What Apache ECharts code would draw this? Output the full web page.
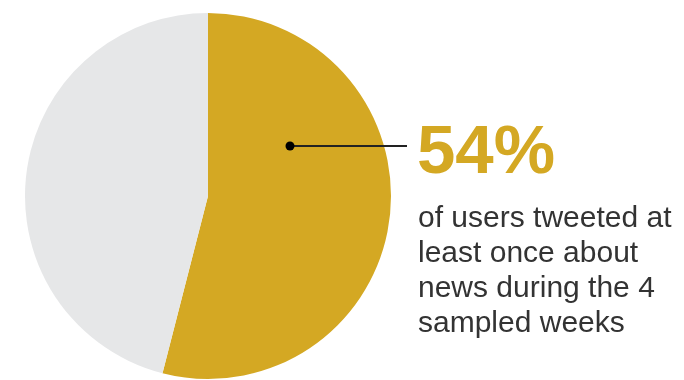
<!DOCTYPE html>
<html><head><meta charset="utf-8">
<script src="https://cdn.jsdelivr.net/npm/echarts@6/dist/echarts.min.js"></script>
<style>html,body{margin:0;padding:0;background:#fff}#c{width:684px;height:380px}</style>
</head><body><div id="c"></div>
<script>
const categories = ['Tweeted about news', 'Did not'];
const values = [54, 46];
const colors = ['#D4A823', '#E6E7E8'];
const captionLines = ['of users tweeted at', 'least once about', 'news during the 4', 'sampled weeks'];

const chart = echarts.init(document.getElementById('c'));
chart.setOption({
  animation: false,
  series: [{
    type: 'pie',
    center: [208, 196],
    radius: [0, 183],
    startAngle: 90,
    clockwise: true,
    silent: true,
    z: 1,
    label: { show: false },
    labelLine: { show: false },
    itemStyle: { borderWidth: 0 },
    data: categories.map((c, i) => ({ name: c, value: values[i], itemStyle: { color: colors[i] } }))
  }],
  graphic: {
    elements: [
      { type: 'line', z: 100, shape: { x1: 290, y1: 146, x2: 407, y2: 146 }, style: { stroke: '#222', lineWidth: 2 } },
      { type: 'circle', z: 101, shape: { cx: 290, cy: 146, r: 4.5 }, style: { fill: '#000' } },
      { type: 'text', z: 100, x: 417, y: 154, style: { text: values[0] + '%', font: 'bold 69px "Liberation Sans"', fill: '#D4A823', verticalAlign: 'middle', align: 'left' } },
      { type: 'text', z: 100, x: 418, y: 201, style: { text: captionLines.join('\n'), font: '30px "Liberation Sans"', lineHeight: 35, fill: '#333', verticalAlign: 'top', align: 'left' } }
    ]
  }
});
</script></body></html>
